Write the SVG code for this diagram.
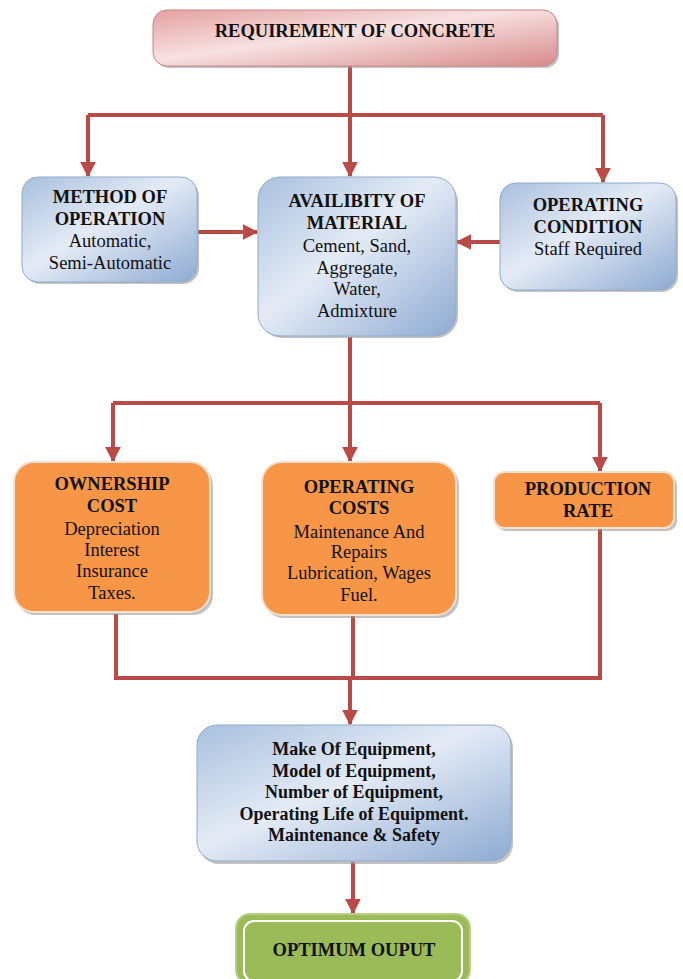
<svg xmlns="http://www.w3.org/2000/svg" width="683" height="979" viewBox="0 0 683 979">
<defs>
<style>
.c{fill:none;stroke:#B94A48;stroke-width:4}
.sh{fill:#9a9a9a;opacity:0.6}
.blue{fill:url(#gb);stroke:#8FAACC;stroke-width:1}
.org{fill:#F79646;stroke:#F3E0CF;stroke-width:2}
</style>
<linearGradient id="gb" x1="0" y1="0" x2="1" y2="1">
<stop offset="0" stop-color="#A9C0DE"/>
<stop offset="0.45" stop-color="#E4EBF5"/>
<stop offset="1" stop-color="#8EAAD2"/>
</linearGradient>
<linearGradient id="gp" x1="0" y1="0" x2="1" y2="1">
<stop offset="0" stop-color="#E4A0A1"/>
<stop offset="0.45" stop-color="#F7E1E1"/>
<stop offset="1" stop-color="#D88A8B"/>
</linearGradient>
<marker id="ah" viewBox="0 0 10 10" refX="9" refY="5" markerWidth="4" markerHeight="4" orient="auto" markerUnits="strokeWidth">
<path d="M0,0 L10,5 L0,10 z" fill="#B94A48"/>
</marker>
</defs>
<rect width="683" height="979" fill="#fff"/>

<g id="connectors">
<path class="c" d="M350,66 V115"/>
<path class="c" d="M88,115 H603"/>
<path class="c" d="M88,115 V176" marker-end="url(#ah)"/>
<path class="c" d="M350,115 V176" marker-end="url(#ah)"/>
<path class="c" d="M603,115 V182" marker-end="url(#ah)"/>
<path class="c" d="M198,232 H257" marker-end="url(#ah)"/>
<path class="c" d="M500,242 H457" marker-end="url(#ah)"/>
<path class="c" d="M350,337 V403"/>
<path class="c" d="M113,403 H600"/>
<path class="c" d="M113,403 V461" marker-end="url(#ah)"/>
<path class="c" d="M350,403 V461" marker-end="url(#ah)"/>
<path class="c" d="M600,403 V471" marker-end="url(#ah)"/>
<path class="c" d="M116,614 V678"/>
<path class="c" d="M353,616 V678"/>
<path class="c" d="M600,529 V678"/>
<path class="c" d="M114,678 H602"/>
<path class="c" d="M350,678 V724" marker-end="url(#ah)"/>
<path class="c" d="M353,862 V913" marker-end="url(#ah)"/>
</g>

<g font-family="Liberation Serif, Times New Roman, serif" font-size="18.5" fill="#111" text-anchor="middle">
<g id="n-requirement">
<rect class="sh" x="155" y="13" width="404" height="55" rx="14"/>
<rect x="153" y="10" width="404" height="56" rx="14" fill="url(#gp)" stroke="#C98586" stroke-width="1"/>
<text font-weight="bold" x="355" y="37">REQUIREMENT OF CONCRETE</text>
</g>

<g id="n-method">
<rect class="sh" x="24" y="180" width="175" height="104" rx="16"/>
<rect class="blue" x="22" y="177" width="175" height="105" rx="16"/>
<text font-weight="bold" x="110" y="203">METHOD OF</text>
<text font-weight="bold" x="110" y="225">OPERATION</text>
<text x="110" y="247">Automatic,</text>
<text x="110" y="269">Semi-Automatic</text>
</g>

<g id="n-availability">
<rect class="sh" x="260" y="180" width="198" height="158" rx="22"/>
<rect class="blue" x="258" y="177" width="198" height="159" rx="22"/>
<text font-weight="bold" x="357" y="207">AVAILIBITY OF</text>
<text font-weight="bold" x="357" y="229">MATERIAL</text>
<text x="357" y="252">Cement, Sand,</text>
<text x="357" y="274">Aggregate,</text>
<text x="357" y="295">Water,</text>
<text x="357" y="317">Admixture</text>
</g>

<g id="n-operating-condition">
<rect class="sh" x="502" y="186" width="176" height="106" rx="16"/>
<rect class="blue" x="500" y="183" width="176" height="107" rx="16"/>
<text font-weight="bold" x="588" y="211">OPERATING</text>
<text font-weight="bold" x="588" y="233">CONDITION</text>
<text x="588" y="255">Staff Required</text>
</g>

<g id="n-ownership">
<rect class="sh" x="16" y="465" width="197" height="150" rx="20"/>
<rect class="org" x="14" y="462" width="196" height="150" rx="20"/>
<text font-weight="bold" x="112" y="490">OWNERSHIP</text>
<text font-weight="bold" x="112" y="512">COST</text>
<text x="112" y="535">Depreciation</text>
<text x="112" y="556">Interest</text>
<text x="112" y="577">Insurance</text>
<text x="112" y="599">Taxes.</text>
</g>

<g id="n-operating-costs">
<rect class="sh" x="264" y="465" width="195" height="153" rx="20"/>
<rect class="org" x="262" y="462" width="194" height="153" rx="20"/>
<text font-weight="bold" x="359" y="493">OPERATING</text>
<text font-weight="bold" x="359" y="514">COSTS</text>
<text x="359" y="538">Maintenance And</text>
<text x="359" y="558">Repairs</text>
<text x="359" y="579">Lubrication, Wages</text>
<text x="359" y="601">Fuel.</text>
</g>

<g id="n-production">
<rect class="sh" x="496" y="475" width="181" height="56" rx="10"/>
<rect class="org" x="494" y="472" width="180" height="56" rx="10"/>
<text font-weight="bold" x="588" y="495">PRODUCTION</text>
<text font-weight="bold" x="588" y="517">RATE</text>
</g>

<g id="n-equipment" font-size="18">
<rect class="sh" x="199" y="728" width="314" height="136" rx="20"/>
<rect class="blue" x="197" y="725" width="314" height="136" rx="20"/>
<text font-weight="bold" x="354" y="755">Make Of Equipment,</text>
<text font-weight="bold" x="354" y="777">Model of Equipment,</text>
<text font-weight="bold" x="354" y="798">Number of Equipment,</text>
<text font-weight="bold" x="354" y="820">Operating Life of Equipment.</text>
<text font-weight="bold" x="354" y="841">Maintenance &amp; Safety</text>
</g>

<g id="n-output">
<rect x="236" y="914" width="234" height="70" rx="14" fill="#9BBB59" stroke="#B8CF86" stroke-width="2"/>
<rect x="244" y="921" width="218" height="60" rx="10" fill="none" stroke="#fff" stroke-width="2"/>
<text font-weight="bold" x="354" y="956">OPTIMUM OUPUT</text>
</g>
</g>
</svg>
